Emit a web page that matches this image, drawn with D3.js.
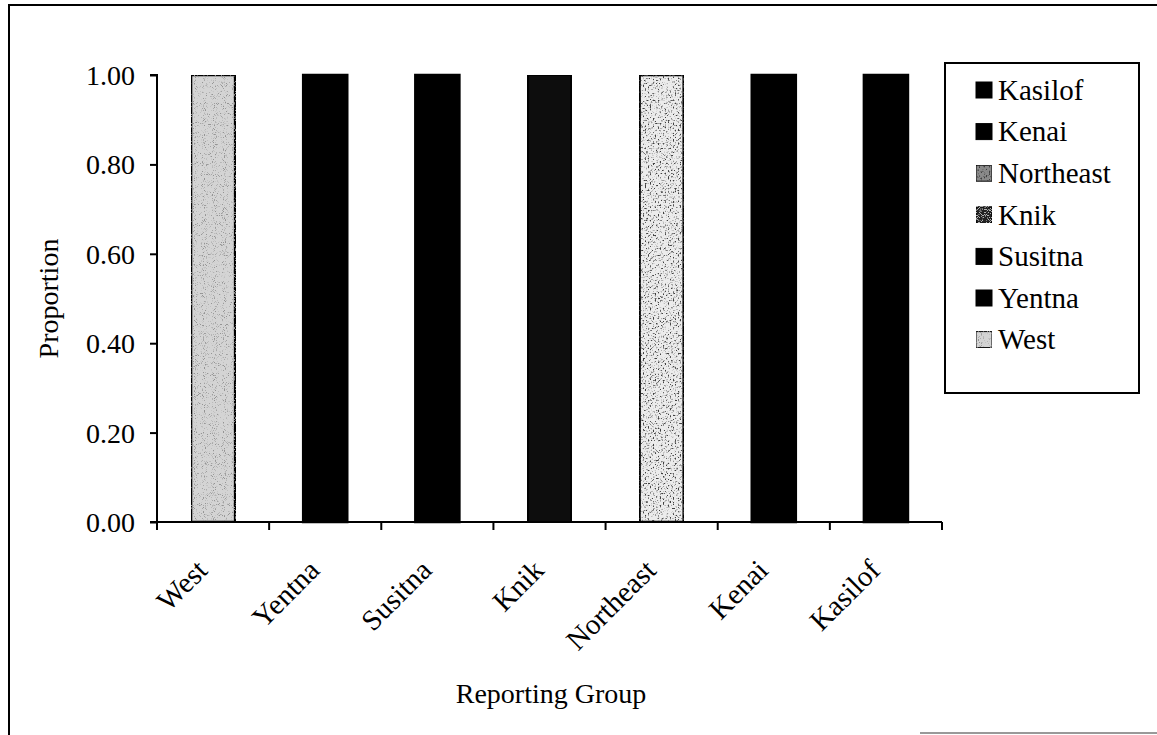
<!DOCTYPE html>
<html>
<head>
<meta charset="utf-8">
<script src="https://cdn.jsdelivr.net/npm/d3@7"></script>
<style>
  html, body { margin: 0; padding: 0; background: #fff; }
  svg { display: block; }
  svg text { font-family: "Liberation Serif", "Times New Roman", serif; fill: #000; }
</style>
</head>
<body>
<svg id="chart" width="1157" height="735"></svg>
<script>
// Reporting groups along the x axis, and the proportion for each
const categories = ["West", "Yentna", "Susitna", "Knik", "Northeast", "Kenai", "Kasilof"];
const proportions = [1.00, 1.00, 1.00, 1.00, 1.00, 1.00, 1.00];
// Legend order (top to bottom)
const legendOrder = ["Kasilof", "Kenai", "Northeast", "Knik", "Susitna", "Yentna", "West"];
const yTicks = [0, 0.2, 0.4, 0.6, 0.8, 1.0];

// Base colour and grain texture for each group
const styles = {
  West:      { fill: "#d4d4d4", swatch: "#d4d4d4", grain: "grain-west" },
  Yentna:    { fill: "#000", swatch: "#000", grain: null },
  Susitna:   { fill: "#000", swatch: "#000", grain: null },
  Knik:      { fill: "#0e0e0e", swatch: "#202020", grain: "grain-knik" },
  Northeast: { fill: "#ececec", swatch: "#8a8a8a", grain: "grain-northeast" },
  Kenai:     { fill: "#000", swatch: "#000", grain: null },
  Kasilof:   { fill: "#000", swatch: "#000", grain: null }
};

const FONT = "'Liberation Serif', 'Times New Roman', serif";
const svg = d3.select("#chart");
const defs = svg.append("defs");

// Grain filters: noise turned into dots, kept inside the shape, laid over it
function grainFilter(id, freq, seed, gain, offset, dotGray) {
  const f = defs.append("filter").attr("id", id)
    .attr("x", 0).attr("y", 0).attr("width", 1).attr("height", 1);
  f.append("feTurbulence").attr("type", "fractalNoise").attr("baseFrequency", freq)
    .attr("numOctaves", 1).attr("seed", seed).attr("result", "noise");
  f.append("feColorMatrix").attr("in", "noise").attr("type", "matrix")
    .attr("values", `0 0 0 0 ${dotGray}  0 0 0 0 ${dotGray}  0 0 0 0 ${dotGray}  ${gain} 0 0 0 ${offset}`)
    .attr("result", "dots");
  f.append("feComposite").attr("in", "dots").attr("in2", "SourceGraphic")
    .attr("operator", "in").attr("result", "clipped");
  const m = f.append("feMerge");
  m.append("feMergeNode").attr("in", "SourceGraphic");
  m.append("feMergeNode").attr("in", "clipped");
}
grainFilter("grain-west", 1.1, 4, 7, -4.0, 0.3);
grainFilter("grain-northeast", 0.6, 9, 6, -3.2, 0.05);
grainFilter("grain-knik", 1.0, 2, 20, -10.8, 0.45);

// Outer frame
svg.append("line").attr("x1", 9).attr("x2", 9).attr("y1", 5).attr("y2", 735)
  .attr("stroke", "#000").attr("stroke-width", 2);
svg.append("line").attr("x1", 8).attr("x2", 1157).attr("y1", 5).attr("y2", 5)
  .attr("stroke", "#000").attr("stroke-width", 2);
svg.append("line").attr("x1", 920).attr("x2", 1157).attr("y1", 733).attr("y2", 733)
  .attr("stroke", "#777").attr("stroke-width", 1.5);

const plot = { left: 157, right: 942, top: 75, bottom: 522 };

const x = d3.scaleBand().domain(categories).range([plot.left, plot.right])
  .paddingInner(0.607).paddingOuter(0.3035);
const y = d3.scaleLinear().domain([0, 1]).range([plot.bottom, plot.top]);

// Bars
svg.append("g").selectAll("rect")
  .data(categories.map((c, i) => ({ c, v: proportions[i] })))
  .join("rect")
  .attr("x", d => x(d.c))
  .attr("y", d => y(d.v))
  .attr("width", x.bandwidth())
  .attr("height", d => y(0) - y(d.v))
  .attr("fill", d => styles[d.c].fill)
  .attr("filter", d => styles[d.c].grain ? `url(#${styles[d.c].grain})` : null)
  .attr("stroke", "#000")
  .attr("stroke-width", 2.5);

// Y axis
const yAxis = svg.append("g").attr("transform", `translate(${plot.left},0)`)
  .call(d3.axisLeft(y).tickValues(yTicks).tickFormat(d3.format(".2f")).tickSize(7).tickPadding(15));
yAxis.attr("font-family", null).attr("font-size", null);
yAxis.select(".domain").attr("stroke-width", 2).attr("d", `M-7,${plot.top}H0V${plot.bottom}`);
yAxis.selectAll(".tick line").attr("stroke-width", 2);
yAxis.selectAll(".tick text").attr("font-size", 28).attr("dy", "0.34em").style("font-family", FONT);

// X axis with ticks at category boundaries
const step = x.step();
const boundaries = d3.range(categories.length + 1).map(i => plot.left + i * step);
const xAxis = svg.append("g");
xAxis.append("line").attr("x1", plot.left - 7).attr("x2", plot.right)
  .attr("y1", plot.bottom).attr("y2", plot.bottom)
  .attr("stroke", "#000").attr("stroke-width", 2);
xAxis.selectAll("line.tk").data(boundaries).join("line").attr("class", "tk")
  .attr("x1", d => d).attr("x2", d => d).attr("y1", plot.bottom).attr("y2", plot.bottom + 8)
  .attr("stroke", "#000").attr("stroke-width", 2);
xAxis.selectAll("text").data(categories).join("text")
  .attr("transform", d => `translate(${x(d) + x.bandwidth() / 2 - 4},${plot.bottom + 50}) rotate(-45)`)
  .attr("text-anchor", "end")
  .attr("font-size", 29)
  .style("font-family", FONT)
  .text(d => d);

// Axis titles
svg.append("text").attr("transform", `translate(58,${(plot.top + plot.bottom) / 2}) rotate(-90)`)
  .attr("text-anchor", "middle").attr("font-size", 28).style("font-family", FONT).text("Proportion");
svg.append("text").attr("x", 551).attr("y", 703).attr("text-anchor", "middle")
  .attr("font-size", 28).style("font-family", FONT).text("Reporting Group");

// Legend
const lg = svg.append("g");
lg.append("rect").attr("x", 945).attr("y", 63).attr("width", 194).attr("height", 330)
  .attr("fill", "#fff").attr("stroke", "#000").attr("stroke-width", 2);
const items = lg.selectAll("g.item").data(legendOrder).join("g").attr("class", "item")
  .attr("transform", (d, i) => `translate(976,${90 + i * 41.6})`);
items.append("rect").attr("x", 0).attr("y", -8).attr("width", 16).attr("height", 16)
  .attr("fill", d => styles[d].swatch)
  .attr("filter", d => styles[d].grain ? `url(#${styles[d].grain})` : null)
  .attr("stroke", "#000").attr("stroke-width", 1);
items.append("text").attr("x", 22).attr("y", 0).attr("dy", "0.34em")
  .attr("font-size", 29).style("font-family", FONT).text(d => d);
</script>
</body>
</html>
